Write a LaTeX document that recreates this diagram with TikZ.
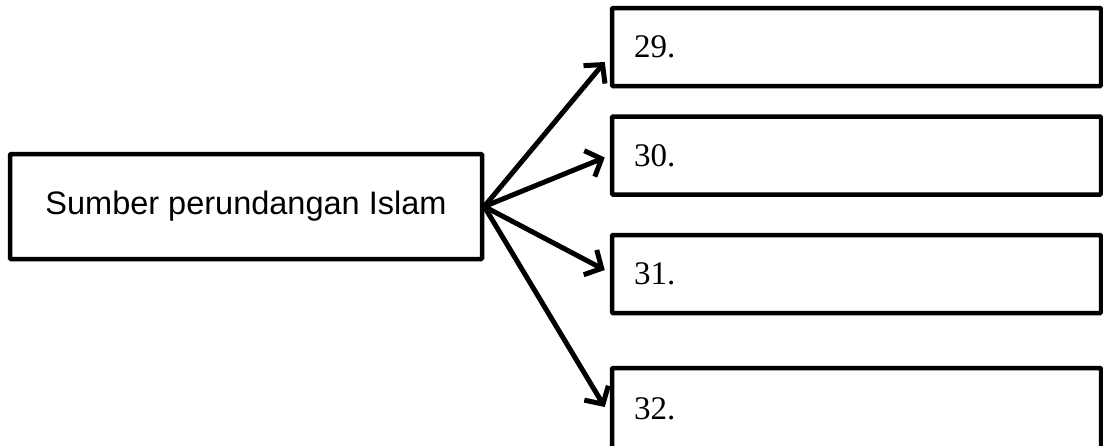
\documentclass[tikz,border=0pt]{standalone}
\usepackage{fontspec}
\setmainfont{Liberation Serif}
\newfontfamily\arialfont{Liberation Sans}
\usetikzlibrary{arrows.meta,positioning,calc}

\begin{document}
\begin{tikzpicture}[x=1pt, y=-1pt, line width=4.5pt,
  srcbox/.style={draw, rounded corners=1pt, minimum width=472pt, minimum height=105pt, font=\arialfont\fontsize{32.5}{38}\selectfont},
  ansbox/.style={draw, rounded corners=1pt, minimum width=489pt, minimum height=78pt, text width=445pt, align=left, inner sep=0pt, font=\fontsize{33}{38}\selectfont},
  arr/.style={line width=5pt, -{Straight Barb[length=13pt, width=28pt]}}]
\useasboundingbox (0,0) rectangle (1103,445);

% kotak sumber
\node[srcbox] (sumber) at (246,206.5) {Sumber perundangan Islam};

% kotak jawapan
\node[ansbox] (j29) at (856.5,47) {29.};
\node[ansbox] (j30) at (856.5,155.5) {30.};
\node[ansbox] (j31) at (856.5,274) {31.};
\node[ansbox, minimum height=82pt] (j32) at (856.5,409) {32.};

% anak panah
\draw[arr] (sumber.east) -- ([xshift=-5pt, yshift=-15pt]j29.west);
\draw[arr] (sumber.east) -- ([xshift=-5pt, yshift=-2pt]j30.west);
\draw[arr] (sumber.east) -- ([xshift=-5pt, yshift=4pt]j31.west);
\draw[arr] (sumber.east) -- ([xshift=-5pt, yshift=2pt]j32.west);
\end{tikzpicture}
\end{document}
